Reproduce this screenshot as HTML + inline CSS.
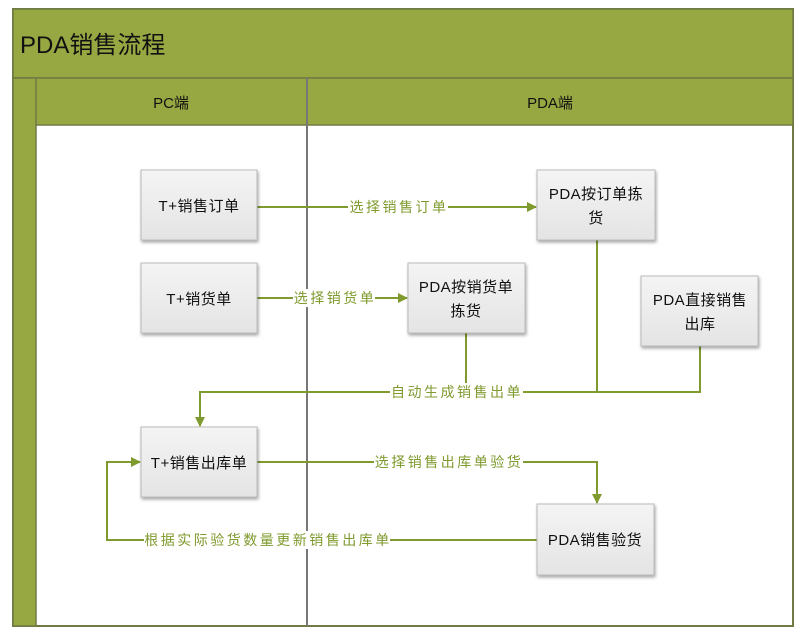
<!DOCTYPE html>
<html><head><meta charset="utf-8"><style>
html,body{margin:0;padding:0;background:#fff;width:804px;height:637px;overflow:hidden}
svg{display:block}
text{font-family:"Liberation Sans","Noto Sans CJK SC",sans-serif}
</style></head><body>
<svg width="804" height="637" viewBox="0 0 804 637" xmlns="http://www.w3.org/2000/svg">
<defs>
<linearGradient id="g" x1="0" y1="0" x2="0" y2="1"><stop offset="0" stop-color="#f4f4f4"/><stop offset="1" stop-color="#e4e4e4"/></linearGradient>
<marker id="a" markerWidth="10" markerHeight="10" refX="9" refY="5" orient="auto" markerUnits="userSpaceOnUse"><path d="M0,0 L10,5 L0,10 z" fill="#7f9a2e"/></marker>
</defs>
<rect x="13" y="9" width="780" height="617" fill="#fff" stroke="#6f7a45" stroke-width="2"/>
<rect x="13" y="9" width="780" height="69" fill="#97a843" stroke="#6f7a45" stroke-width="1.5"/>
<rect x="13" y="78" width="780" height="47" fill="#97a843" stroke="#6f7a45" stroke-width="1.5"/>
<rect x="13" y="78" width="23" height="548" fill="#97a843" stroke="#6f7a45" stroke-width="1.5"/>
<line x1="307" y1="78" x2="307" y2="626" stroke="#777" stroke-width="2"/>
<text x="20" y="53" font-size="24" fill="#111">PDA销售流程</text>
<text x="171" y="108" font-size="15" fill="#111" text-anchor="middle">PC端</text>
<text x="550" y="108" font-size="15" fill="#111" text-anchor="middle">PDA端</text>
<g stroke="#7f9a2e" stroke-width="2" fill="none">
<line x1="257" y1="207" x2="536" y2="207" marker-end="url(#a)"/>
<line x1="257" y1="298" x2="407" y2="298" marker-end="url(#a)"/>
<path d="M700,346 V392 H200 V426" marker-end="url(#a)"/>
<line x1="466" y1="333" x2="466" y2="392"/>
<line x1="597" y1="240" x2="597" y2="392"/>
<path d="M257,462 H597 V503" marker-end="url(#a)"/>
<path d="M537,540 H107 V462 H140" marker-end="url(#a)"/>
</g>
<g font-size="14" fill="#7f9a2e" text-anchor="middle" letter-spacing="2.5">
<rect x="348" y="198" width="100" height="18" fill="#fff"/><text x="399" y="212">选择销售订单</text>
<rect x="293" y="289" width="82" height="18" fill="#fff"/><text x="335" y="303">选择销货单</text>
<rect x="390" y="383" width="133" height="18" fill="#fff"/><text x="457" y="397">自动生成销售出单</text>
<rect x="374" y="453" width="149" height="18" fill="#fff"/><text x="449" y="467">选择销售出库单验货</text>
<rect x="144" y="531" width="246" height="18" fill="#fff"/><text x="268" y="545">根据实际验货数量更新销售出库单</text>
</g>
<g stroke="#bbb" stroke-width="1" fill="url(#g)" style="filter:drop-shadow(1px 2px 1.5px rgba(0,0,0,.35))">
<rect x="141" y="170" width="116" height="70"/>
<rect x="141" y="263" width="116" height="70"/>
<rect x="141" y="427" width="116" height="70"/>
<rect x="537" y="170" width="118" height="70"/>
<rect x="408" y="263" width="117" height="70"/>
<rect x="641" y="276" width="117" height="70"/>
<rect x="537" y="504" width="117" height="71"/>
</g>
<g font-size="15" fill="#111" text-anchor="middle" letter-spacing="0.5">
<text x="199" y="211">T+销售订单</text>
<text x="199" y="304">T+销货单</text>
<text x="199" y="468">T+销售出库单</text>
<text x="596" y="199">PDA按订单拣</text><text x="596" y="223">货</text>
<text x="466" y="292">PDA按销货单</text><text x="466" y="316">拣货</text>
<text x="700" y="305">PDA直接销售</text><text x="700" y="329">出库</text>
<text x="595" y="545">PDA销售验货</text>
</g>
</svg>
</body></html>
